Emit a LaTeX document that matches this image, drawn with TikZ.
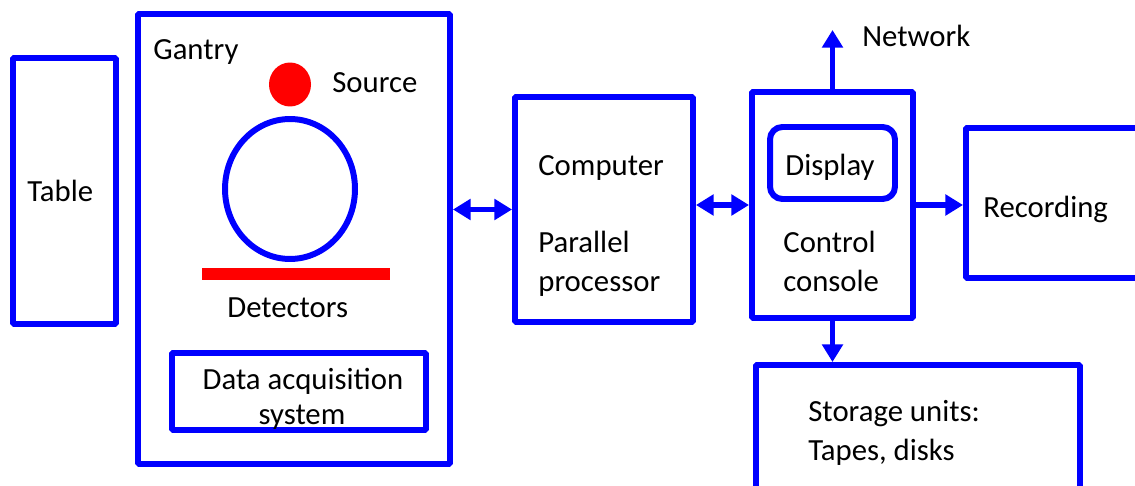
\documentclass[tikz,border=0pt]{standalone}
\usepackage{fontspec}
\setmainfont{Carlito}
\usetikzlibrary{arrows.meta}
\definecolor{boxblue}{RGB}{0,0,255}
\definecolor{srcred}{RGB}{255,0,0}

\begin{document}
\begin{tikzpicture}[x=0.02cm,y=-0.02cm,>={Triangle[length=10pt,width=11.5pt]},line join=bevel,
  box/.style={draw=boxblue,line width=3.4pt,inner sep=0pt,outer sep=0pt},
  lbl/.style={font=\fontsize{17.5}{21}\selectfont,inner sep=0pt,anchor=base west},
  link/.style={draw=boxblue,line width=3.2pt}]

 \useasboundingbox (0,0) rectangle (1135,486);
 \clip (0,0) rectangle (1135,486);

 \node (node_table) at (64.5,191) [box,minimum width=2.06cm,minimum height=5.32cm] {};
 \node (node_gantry) at (294,239) [box,minimum width=6.24cm,minimum height=9cm] {};
 \node (node_daq) at (298.75,391.5) [box,minimum width=5.09cm,minimum height=1.54cm] {};
 \node (node_computer) at (604,209.5) [box,minimum width=3.56cm,minimum height=4.5cm] {};
 \node (node_console) at (832.5,205) [box,minimum width=3.22cm,minimum height=4.52cm] {};
 \node (node_display) at (832.5,163) [box,rounded corners=7pt,minimum width=2.5cm,minimum height=1.44cm] {};
 \node (node_recording) at (1070.5,203) [box,minimum width=4.18cm,minimum height=3cm] {};
 \node (node_storage) at (918,445) [box,minimum width=6.48cm,minimum height=3.2cm] {};
 \coordinate (node_network) at (834,30);

 % gantry inside
 \fill [srcred] (290,84.5) ellipse [x radius=0.42cm,y radius=0.44cm];
 \draw [boxblue,line width=3.4pt] (290,189) ellipse [x radius=1.3cm,y radius=1.4cm];
 \fill [srcred] (202,268) rectangle (390,280);

 \node (lbl_gantry) at (153,60) [lbl] {Gantry};
 \node (lbl_source) at (332,93) [lbl] {Source};
 \node (lbl_table) at (27,202) [lbl] {Table};
 \node (lbl_detectors) at (227,317) [lbl] {Detectors};
 \node (lbl_data) at (303,389) [lbl,anchor=base] {Data acquisition};
 \node (lbl_system) at (302,424) [lbl,anchor=base] {system};
 \node (lbl_computer) at (538,175) [lbl] {Computer};
 \node (lbl_parallel) at (538,253) [lbl] {Parallel};
 \node (lbl_processor) at (538,291) [lbl] {processor};
 \node (lbl_display) at (785,175) [lbl] {Display};
 \node (lbl_control) at (783,253) [lbl] {Control};
 \node (lbl_console) at (783,291) [lbl] {console};
 \node (lbl_recording) at (983,217) [lbl] {Recording};
 \node (lbl_network) at (862,47) [lbl] {Network};
 \node (lbl_storage) at (808,421) [lbl] {Storage units:};
 \node (lbl_tapes) at (808,460) [lbl] {Tapes, disks};

  \draw [link,<->,shorten <=1.7pt,shorten >=1.7pt] (node_gantry.east |- node_computer.west) -- (node_computer.west);
  \draw [link,<->,shorten <=1.7pt,shorten >=1.7pt] (node_computer.east |- node_console.west) -- (node_console.west);
  \draw [link,->,shorten >=1.7pt] (node_console.east) -- (node_recording.west |- node_console.east);
  \draw [link,->] (node_console.north) -- (node_console.north |- node_network);
  \draw [link,->,shorten >=1.7pt] (node_console.south) -- (node_console.south |- node_storage.north);

\end{tikzpicture}
\end{document}
